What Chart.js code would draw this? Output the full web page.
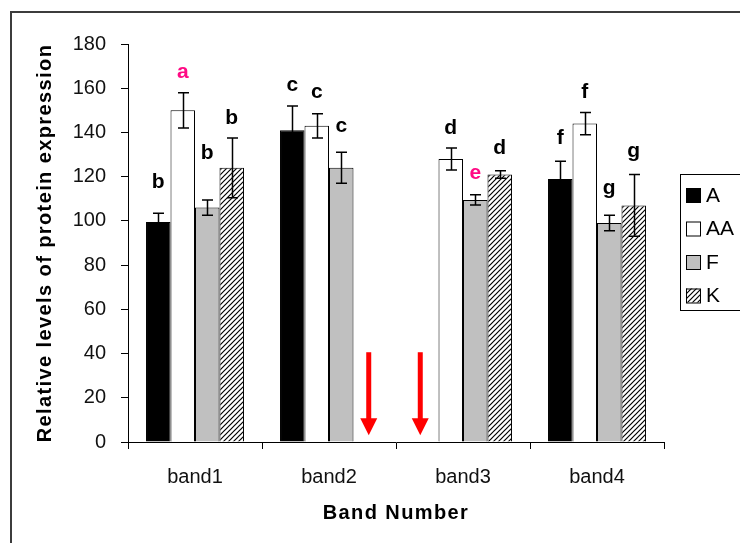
<!DOCTYPE html>
<html>
<head>
<meta charset="utf-8">
<script src="https://cdn.jsdelivr.net/npm/chart.js@4"></script>
<style>
  html, body { margin: 0; padding: 0; background: #fff; overflow: hidden; }
  #frame { position: absolute; left: 10px; top: 11px; width: 800px; height: 600px; border: 2px solid #3c3c3c; }
  #wrap { position: absolute; left: 0; top: 0; width: 740px; height: 543px; }
</style>
</head>
<body>
<div id="frame"></div>
<div id="wrap"><canvas id="chart"></canvas></div>
<script>
// categories and values
const categories = ['band1', 'band2', 'band3', 'band4'];
const seriesNames = ['A', 'AA', 'F', 'K'];

const valuesA  = [99.5, 141, null, 119];
const valuesAA = [150, 143, 128, 144];
const valuesF  = [106, 124, 109.5, 99];
const valuesK  = [124, null, 121, 107];

// +/- error
const errA  = [4, 11, 0, 8];
const errAA = [8, 5.5, 5, 5];
const errF  = [3.5, 7, 2.3, 3.5];
const errK  = [13.5, 0, 1.7, 14];

// significance letters and the height (in axis units) where each one sits
const lettersA  = ['b', 'c', '', 'f'];
const lettersAA = ['a', 'c', 'd', 'f'];
const lettersF  = ['b', 'c', 'e', 'g'];
const lettersK  = ['b', '', 'd', 'g'];
const letterYA  = [117.7, 161.5, null, 137.3];
const letterYAA = [167.4, 158.4, 141.9, 158.4];
const letterYF  = [130.7, 142.6, 121.5, 114.7];
const letterYK  = [146.5, null, 132.8, 131.3];
const pinkLetters = ['a', 'e'];

// missing bars marked by red arrows: [series index, category index]
const arrowMarks = [[3, 1], [0, 2]];
const arrowFrom = 40.6;
const arrowTo = 3;

const yTicks = { min: 0, max: 180, step: 20 };

const FONT = "'Liberation Sans', Arial, sans-serif";

// hatched fill for K
function makeHatch() {
    const s = 5;
    const c = document.createElement('canvas');
    c.width = s; c.height = s;
    const g = c.getContext('2d');
    g.fillStyle = '#fff';
    g.fillRect(0, 0, s, s);
    g.strokeStyle = '#000';
    g.lineWidth = 1.2;
    g.beginPath();
    g.moveTo(0, s); g.lineTo(s, 0);
    g.moveTo(-1, 1); g.lineTo(1, -1);
    g.moveTo(s - 1, s + 1); g.lineTo(s + 1, s - 1);
    g.stroke();
    return g.createPattern(c, 'repeat');
}

const ctx = document.getElementById('chart').getContext('2d');
const hatch = makeHatch();

const allValues = [valuesA, valuesAA, valuesF, valuesK];
const allErr = [errA, errAA, errF, errK];
const allLetters = [lettersA, lettersAA, lettersF, lettersK];
const allLetterY = [letterYA, letterYAA, letterYF, letterYK];
const fills = ['#000000', '#ffffff', '#c0c0c0', hatch];

const errorBars = {
    id: 'errorBars',
    afterDatasetsDraw(chart) {
        const c = chart.ctx;
        const y = chart.scales.y;
        c.save();
        c.strokeStyle = '#000';
        c.lineWidth = 1.5;
        allValues.forEach((vals, d) => {
            const meta = chart.getDatasetMeta(d);
            vals.forEach((v, i) => {
                if (v == null) return;
                const e = allErr[d][i];
                const x = Math.round(meta.data[i].x) + 0.5;
                const top = y.getPixelForValue(v + e);
                const bot = y.getPixelForValue(v - e);
                c.beginPath();
                c.moveTo(x, top); c.lineTo(x, bot);
                c.moveTo(x - 5.5, top); c.lineTo(x + 5.5, top);
                c.moveTo(x - 5.5, bot); c.lineTo(x + 5.5, bot);
                c.stroke();
            });
        });
        c.restore();
    }
};

// arrows in the figure sit a little off the bar centres
const arrowNudge = [3, -6];

const letterMarks = {
    id: 'letterMarks',
    afterDatasetsDraw(chart) {
        const c = chart.ctx;
        const y = chart.scales.y;
        c.save();
        c.font = 'bold 21px ' + FONT;
        c.textAlign = 'center';
        c.textBaseline = 'middle';
        allLetters.forEach((letters, d) => {
            const meta = chart.getDatasetMeta(d);
            letters.forEach((t, i) => {
                if (!t) return;
                c.fillStyle = pinkLetters.includes(t) ? '#ff0a84' : '#000';
                c.fillText(t, meta.data[i].x, y.getPixelForValue(allLetterY[d][i]));
            });
        });

        // red arrows where a bar is missing
        c.fillStyle = '#ff0000';
        c.strokeStyle = '#ff0000';
        arrowMarks.forEach(([d, i], k) => {
            const x = chart.getDatasetMeta(d).data[i].x + arrowNudge[k];
            const top = y.getPixelForValue(arrowFrom);
            const tip = y.getPixelForValue(arrowTo);
            c.lineWidth = 5;
            c.beginPath();
            c.moveTo(x, top); c.lineTo(x, tip - 14);
            c.stroke();
            c.beginPath();
            c.moveTo(x - 8.5, tip - 17);
            c.lineTo(x + 8.5, tip - 17);
            c.lineTo(x, tip);
            c.closePath();
            c.fill();
        });
        c.restore();
    }
};

const titlesAndLegend = {
    id: 'titlesAndLegend',
    afterDraw(chart) {
        const c = chart.ctx;
        const a = chart.chartArea;
        c.save();
        c.fillStyle = '#000';
        c.font = 'bold 20px ' + FONT;
        c.letterSpacing = '1.4px';
        c.textAlign = 'center';
        c.textBaseline = 'middle';
        c.fillText('Band Number', (a.left + a.right) / 2, 513);
        c.translate(45, (a.top + a.bottom) / 2);
        c.rotate(-Math.PI / 2);
        c.fillText('Relative levels of protein expression', 0, 0);
        c.restore();

        // legend box
        c.save();
        c.strokeStyle = '#000';
        c.lineWidth = 1;
        c.strokeRect(680.5, 174.5, 100, 136);
        c.font = '21px ' + FONT;
        c.textBaseline = 'middle';
        c.textAlign = 'left';
        chart.data.datasets.forEach((ds, k) => {
            const cy = 195 + k * 33.5;
            c.fillStyle = ds.backgroundColor;
            c.fillRect(686, cy - 7, 14, 14);
            c.strokeRect(686.5, cy - 6.5, 14, 14);
            c.fillStyle = '#000';
            c.fillText(ds.label, 706, cy + 1);
        });
        c.restore();
    }
};

new Chart(ctx, {
    type: 'bar',
    data: {
        labels: categories,
        datasets: seriesNames.map((name, d) => ({
            label: name,
            data: allValues[d],
            backgroundColor: fills[d],
            borderColor: '#000',
            borderWidth: 1,
            barPercentage: 1,
            categoryPercentage: 0.731
        }))
    },
    options: {
        responsive: true,
        maintainAspectRatio: false,
        animation: false,
        devicePixelRatio: 1,
        layout: { padding: { left: 0, top: 44, right: 76, bottom: 41 } },
        plugins: { legend: { display: false }, tooltip: { enabled: false } },
        scales: {
            x: {
                grid: { offset: true, drawOnChartArea: false, tickLength: 7, color: '#000' },
                border: { color: '#000', width: 1 },
                ticks: { color: '#111', font: { family: FONT, size: 20 }, padding: 16, maxRotation: 0 },
                afterFit(scale) { scale.height = 60; }
            },
            y: {
                min: yTicks.min,
                max: yTicks.max,
                grid: { drawOnChartArea: false, tickLength: 7, color: '#000' },
                border: { color: '#000', width: 1 },
                ticks: { stepSize: yTicks.step, color: '#111', font: { family: FONT, size: 20 }, padding: 15 },
                afterFit(scale) { scale.width = 128; }
            }
        }
    },
    plugins: [errorBars, letterMarks, titlesAndLegend]
});
</script>
</body>
</html>
